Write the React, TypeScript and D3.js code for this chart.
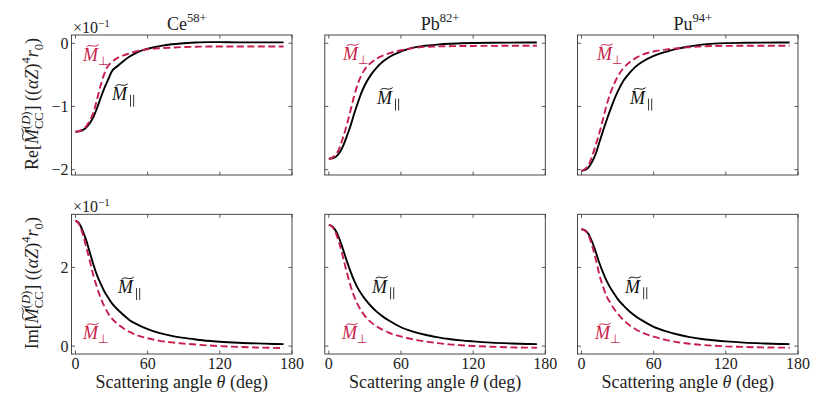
import React, { useEffect, useRef } from "react";
import * as d3 from "d3";

// ---------- data ----------
const theta = [0, 3, 6, 9, 12, 15, 18, 21, 24, 27, 30, 35, 40, 45, 50, 60, 70, 80, 90, 100, 110, 120, 135, 150, 165, 173];

const ionNames = ["Ce", "Pb", "Pu"];
const ionCharges = ["58+", "82+", "94+"];

// Re parts (units of 1e-1)
const reParCe = [-1.40, -1.395, -1.375, -1.33, -1.26, -1.16, -1.02, -0.86, -0.71, -0.58, -0.45, -0.36, -0.28, -0.21, -0.155, -0.085, -0.045, -0.015, 0.0, 0.012, 0.018, 0.018, 0.015, 0.015, 0.015, 0.015];
const rePerpCe = [-1.40, -1.39, -1.36, -1.31, -1.22, -1.09, -0.88, -0.66, -0.48, -0.36, -0.30, -0.23, -0.19, -0.16, -0.13, -0.095, -0.078, -0.068, -0.06, -0.055, -0.052, -0.05, -0.05, -0.05, -0.05, -0.05];
const reParPb = [-1.83, -1.82, -1.795, -1.73, -1.62, -1.47, -1.31, -1.12, -0.95, -0.79, -0.66, -0.50, -0.38, -0.29, -0.22, -0.13, -0.07, -0.04, -0.022, -0.008, 0.0, 0.005, 0.009, 0.011, 0.012, 0.012];
const rePerpPb = [-1.83, -1.81, -1.76, -1.65, -1.48, -1.29, -1.07, -0.84, -0.65, -0.51, -0.41, -0.31, -0.24, -0.195, -0.16, -0.11, -0.077, -0.057, -0.05, -0.046, -0.044, -0.042, -0.041, -0.04, -0.04, -0.04];
const reParPu = [-2.02, -2.005, -1.96, -1.87, -1.74, -1.56, -1.38, -1.21, -1.05, -0.90, -0.77, -0.59, -0.47, -0.37, -0.30, -0.20, -0.135, -0.085, -0.05, -0.022, -0.006, 0.003, 0.008, 0.011, 0.012, 0.012];
const rePerpPu = [-2.02, -1.99, -1.92, -1.78, -1.60, -1.41, -1.19, -0.97, -0.79, -0.65, -0.53, -0.39, -0.30, -0.235, -0.185, -0.13, -0.10, -0.078, -0.062, -0.048, -0.043, -0.041, -0.04, -0.04, -0.04, -0.04];

// Im parts (units of 1e-1)
const imParCe = [3.19, 3.12, 2.93, 2.68, 2.37, 2.06, 1.79, 1.58, 1.39, 1.24, 1.10, 0.93, 0.79, 0.66, 0.57, 0.43, 0.33, 0.26, 0.21, 0.17, 0.135, 0.11, 0.085, 0.07, 0.055, 0.05];
const imPerpCe = [3.19, 3.10, 2.85, 2.51, 2.15, 1.78, 1.48, 1.22, 1.01, 0.84, 0.71, 0.56, 0.45, 0.36, 0.29, 0.20, 0.135, 0.095, 0.065, 0.04, 0.018, 0.0, -0.02, -0.035, -0.045, -0.05];
const imParPb = [3.08, 3.04, 2.92, 2.71, 2.44, 2.16, 1.90, 1.67, 1.48, 1.33, 1.20, 1.02, 0.87, 0.75, 0.65, 0.48, 0.37, 0.29, 0.23, 0.18, 0.145, 0.12, 0.09, 0.07, 0.055, 0.05];
const imPerpPb = [3.08, 3.03, 2.86, 2.58, 2.24, 1.87, 1.54, 1.27, 1.06, 0.90, 0.77, 0.61, 0.50, 0.41, 0.34, 0.245, 0.175, 0.12, 0.08, 0.045, 0.022, 0.005, -0.015, -0.03, -0.038, -0.04];
const imParPu = [2.97, 2.945, 2.84, 2.64, 2.38, 2.10, 1.86, 1.65, 1.48, 1.34, 1.20, 1.03, 0.88, 0.76, 0.66, 0.49, 0.38, 0.295, 0.23, 0.18, 0.148, 0.12, 0.09, 0.07, 0.055, 0.05];
const imPerpPu = [2.97, 2.93, 2.80, 2.53, 2.19, 1.80, 1.50, 1.26, 1.10, 0.95, 0.83, 0.66, 0.53, 0.43, 0.35, 0.24, 0.16, 0.10, 0.06, 0.03, 0.01, -0.005, -0.02, -0.032, -0.038, -0.04];

const parallelSeries = [[reParCe, reParPb, reParPu], [imParCe, imParPb, imParPu]];
const perpSeries = [[rePerpCe, rePerpPb, rePerpPu], [imPerpCe, imPerpPb, imPerpPu]];

const xTicks = [0, 60, 120, 180];
const xTickLabels = ["0", "60", "120", "180"];
const yTicksRows = [[-2, -1, 0], [0, 2]];
const yTickLabelsRows = [["\u22122", "\u22121", "0"], ["0", "2"]];
const xDomain: [number, number] = [-3.33, 180];
const yDomains: [number, number][] = [[-2.085, 0.131], [-0.2, 3.35]];

// annotation anchors (data coords) [row][col] -> [theta, value]
const parLabelPos = [[[30.3, -0.9], [40, -0.96], [40.3, -0.96]], [[35.3, 1.34], [35.9, 1.36], [36.2, 1.36]]];
const perpLabelPos = [[[6.2, -0.28], [11.8, -0.265], [12.9, -0.265]], [[6.2, 0.17], [11, 0.17], [11.2, 0.17]]];

// ---------- layout / style ----------
const W = 830, H = 415;
const panelLefts = [71.5, 324.8, 577.5];
const panelW = 220.5;
const rowTops = [35, 214.3];
const rowBottoms = [175, 354];
const RED = "#c81e4b";
const FRAME = "#333";
const SYMFONT = "'DejaVu Sans', sans-serif";

type Seg = { t: string; s: number; i?: boolean; dy?: number; tilde?: boolean; mark?: boolean; stack?: boolean; join?: boolean; f?: string; bars?: boolean };

function rich(g: d3.Selection<SVGGElement, unknown, null, undefined>, segs: Seg[], fill: string): number {
  let x = 0, reach = 0, anchor = 0;
  const tildes: [number, number, number, number][] = [];
  segs.forEach((seg) => {
    const start = seg.stack ? anchor : seg.join ? x : reach;
    if (seg.mark) anchor = start;
    let w = 0;
    if (seg.bars) {
      // parallel symbol drawn as two thin vertical strokes
      const dy = seg.dy ?? 0;
      const gap = 0.26 * seg.s;
      const x1 = start + 0.3 * seg.s;
      [x1, x1 + gap].forEach((bx) => {
        g.append("line").attr("x1", bx).attr("x2", bx)
          .attr("y1", dy + 0.22 * seg.s).attr("y2", dy - 0.78 * seg.s)
          .attr("stroke", fill).attr("stroke-width", 0.85);
      });
      w = 0.6 * seg.s + gap;
    } else {
      const el = g.append("text")
        .attr("x", start).attr("y", seg.dy ?? 0)
        .attr("font-size", seg.s)
        .attr("font-style", seg.i ? "italic" : "normal")
        .attr("fill", fill)
        .style("white-space", "pre")
        .text(seg.t);
      if (seg.f) el.attr("font-family", seg.f);
      w = (el.node() as SVGTextElement).getComputedTextLength();
    }
    if (seg.tilde) tildes.push([start, w, seg.s, seg.dy ?? 0]);
    x = start + w;
    reach = Math.max(reach, x);
  });
  tildes.forEach(([s, w, fs, dy]) => {
    const x0 = s + 0.2 * fs, x1 = s + w + 0.04 * fs;
    const yc = dy - 0.84 * fs, a = 0.07 * fs;
    const dx = x1 - x0;
    g.append("path")
      .attr("d", `M${x0},${yc + a} C${x0 + dx * 0.3},${yc - a * 2.4} ${x0 + dx * 0.62},${yc + a * 2.4} ${x1},${yc - a}`)
      .attr("fill", "none").attr("stroke", fill).attr("stroke-width", 0.055 * fs);
  });
  return reach;
}

export default function App() {
  const ref = useRef<SVGSVGElement>(null);
  useEffect(() => {
    const svg = d3.select(ref.current as SVGSVGElement);
    svg.selectAll("*").remove();
    const root = svg.append("g");

    for (let r = 0; r < 2; r++) {
      const top = rowTops[r], bottom = rowBottoms[r];
      const y = d3.scaleLinear().domain(yDomains[r]).range([bottom, top]);
      for (let c = 0; c < 3; c++) {
        const L = panelLefts[c];
        const x = d3.scaleLinear().domain(xDomain).range([L, L + panelW]);
        const g = root.append("g");

        // curves
        const line = d3.line<number>()
          .x((_, i) => x(theta[i]))
          .y((d) => y(d))
          .curve(d3.curveMonotoneX);
        g.append("path").attr("d", line(parallelSeries[r][c]) as string)
          .attr("fill", "none").attr("stroke", "#000").attr("stroke-width", 1.9);
        g.append("path").attr("d", line(perpSeries[r][c]) as string)
          .attr("fill", "none").attr("stroke", RED).attr("stroke-width", 1.9)
          .attr("stroke-dasharray", "7,3.5");

        // frame
        g.append("rect").attr("x", L).attr("y", top).attr("width", panelW).attr("height", bottom - top)
          .attr("fill", "none").attr("stroke", FRAME).attr("stroke-width", 0.9);

        // ticks
        xTicks.forEach((t, k) => {
          const px = x(t);
          g.append("line").attr("x1", px).attr("x2", px).attr("y1", bottom).attr("y2", bottom - 3.5).attr("stroke", FRAME).attr("stroke-width", 0.8);
          g.append("line").attr("x1", px).attr("x2", px).attr("y1", top).attr("y2", top + 3.5).attr("stroke", FRAME).attr("stroke-width", 0.8);
          if (r === 1) {
            g.append("text").attr("x", px).attr("y", bottom + 14.5).attr("text-anchor", "middle")
              .attr("font-size", 16).attr("fill", "#222").text(xTickLabels[k]);
          }
        });
        yTicksRows[r].forEach((t, k) => {
          const py = y(t);
          g.append("line").attr("x1", L).attr("x2", L + 3.5).attr("y1", py).attr("y2", py).attr("stroke", FRAME).attr("stroke-width", 0.8);
          g.append("line").attr("x1", L + panelW).attr("x2", L + panelW - 3.5).attr("y1", py).attr("y2", py).attr("stroke", FRAME).attr("stroke-width", 0.8);
          if (c === 0) {
            g.append("text").attr("x", L - 3).attr("y", py + 5.5).attr("text-anchor", "end")
              .attr("font-size", 16).attr("fill", "#222").text(yTickLabelsRows[r][k]);
          }
        });

        // annotations
        const pp = parLabelPos[r][c];
        const ga = g.append("g").attr("transform", `translate(${x(pp[0])},${y(pp[1])})`);
        rich(ga, [{ t: "M", s: 18, i: true, tilde: true }, { t: "\u2225", s: 12, dy: 4, bars: true }], "#111");
        const pq = perpLabelPos[r][c];
        const gb = g.append("g").attr("transform", `translate(${x(pq[0])},${y(pq[1])})`);
        rich(gb, [{ t: "M", s: 18, i: true, tilde: true }, { t: "\u22a5", s: 12, dy: 4, f: SYMFONT }], RED);

        // titles
        if (r === 0) {
          const gt = g.append("g");
          const w = rich(gt, [{ t: ionNames[c], s: 18 }, { t: ionCharges[c], s: 12.6, dy: -7.5 }], "#222");
          gt.attr("transform", `translate(${L + panelW / 2 + 5 - w / 2},29.5)`);
        }
        // x label
        if (r === 1) {
          const gx = g.append("g");
          const w = rich(gx, [{ t: "Scattering angle ", s: 18 }, { t: "\u03b8", s: 18, i: true }, { t: " (deg)", s: 18 }], "#222");
          gx.attr("transform", `translate(${L + panelW / 2 - w / 2},388)`);
        }
        // offset text
        if (c === 0) {
          const go = g.append("g").attr("transform", `translate(${L + 1.5},${top - 2})`);
          rich(go, [{ t: "\u00d710", s: 16 }, { t: "\u22121", s: 11.2, dy: -6.5 }], "#222");
        }
      }
      // y label
      const cy = (rowTops[r] + rowBottoms[r]) / 2 - 1;
      const gy = root.append("g").attr("transform", `translate(38,${cy}) rotate(-90)`);
      const inner = gy.append("g");
      const segs: Seg[] = [
        { t: r === 0 ? "Re[" : "Im[", s: 18 },
        { t: "M", s: 18, i: true, tilde: true },
        { t: "CC", s: 12.6, dy: 4.5, mark: true },
        { t: "(", s: 12.6, dy: -8, stack: true },
        { t: "D", s: 12.6, dy: -8, i: true, join: true },
        { t: ")", s: 12.6, dy: -8, join: true },
        { t: "] ((", s: 18 },
        { t: "\u03b1Z", s: 18, i: true },
        { t: ")", s: 18 },
        { t: "4", s: 12.6, dy: -8 },
        { t: "r", s: 18, i: true },
        { t: "0", s: 12.6, dy: 4.5 },
        { t: ")", s: 18 },
      ];
      const w = rich(inner, segs, "#222");
      inner.attr("transform", `translate(${-w / 2},0)`);
    }
  }, []);
  return (
    <svg
      ref={ref}
      width={W}
      height={H}
      style={{ position: "absolute", left: 0, top: 0, background: "#fff" }}
      fontFamily="'Liberation Serif', 'Times New Roman', serif"
    />
  );
}
